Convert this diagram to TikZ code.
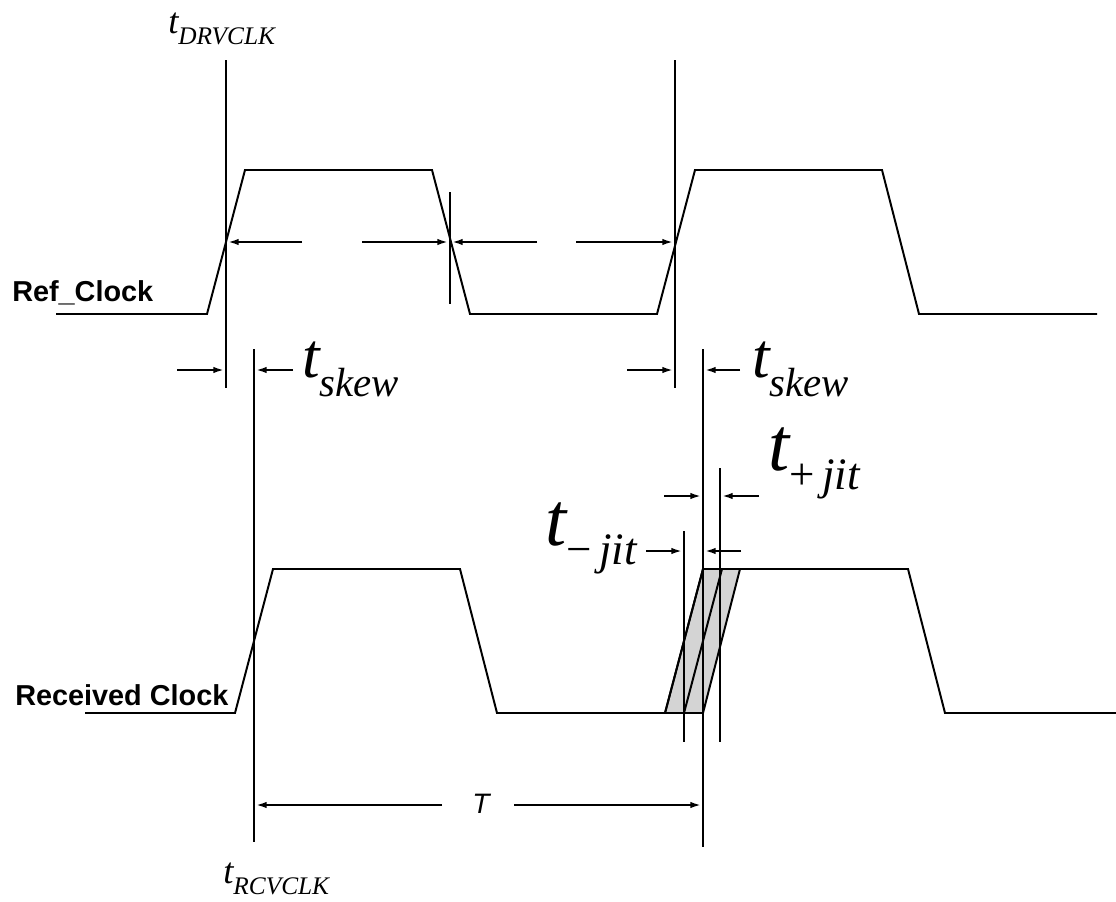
\documentclass[tikz,border=0pt]{standalone}
\usepackage{fontspec}
\setmainfont{Liberation Serif}
\newfontfamily\arialfont{Liberation Sans}
\usetikzlibrary{arrows.meta,positioning,calc}

\newcommand{\tlab}[4]{{\fontsize{#1}{#1}\selectfont\itshape t}\raisebox{-#3}{\fontsize{#2}{#2}\selectfont\itshape #4}}

\begin{document}
\begin{tikzpicture}[x=0.025cm,y=-0.025cm,>={Latex[length=8pt,width=4.5pt]},
  wave/.style={line width=1.4pt,line join=miter},
  vline/.style={line width=1.9pt},
  dim/.style={line width=1.8pt,->,shorten >=0.95pt},
  lbl/.style={inner sep=0pt,anchor=base west},
  sig/.style={lbl,font={\arialfont\bfseries\fontsize{20.5pt}{20.5pt}\selectfont}}]
\useasboundingbox (0,0) rectangle (1116,901);

\draw [wave] (56,314) -- (207,314) -- (245,170) -- (432,170) -- (470,314) -- (657,314)
  -- (695,170) -- (882,170) -- (919,314) -- (1097,314);
\filldraw [wave,fill=black!17] (665,713) -- (703,569) -- (740,569) -- (703,713) -- cycle;
\draw [wave] (684,713) -- (722,569);
\draw [wave] (85,713) -- (235,713) -- (273,569) -- (460,569) -- (497,713) -- (665,713)
  -- (703,569) -- (908,569) -- (945,713) -- (1116,713);

\foreach \n/\x/\a/\b in {1/226/60/388, 2/450/192/304, 3/675/60/388, 4/254/349/842,
  5/703/349/847, 6/684/531/742, 7/720/468/742}{
  \coordinate (v\n-t) at (\x,\a);
  \coordinate (v\n-b) at (\x,\b);
  \draw [vline] (v\n-t) -- (v\n-b);
}

\foreach \n/\x/\y/\v in {a1/302/242/1, a2/362/242/2, a3/537/242/2, a4/576/242/3,
  s1/177/370/1, s2/293/370/4, s3/627/370/3, s4/740/370/5,
  p1/664/496/5, p2/759/496/7, m1/646/551/6, m2/741/551/5,
  T1/442/805/4, T2/514/805/5}{
  \coordinate (\n) at (\x,\y);
  \draw [dim] (\n) -- (\n -| v\v-t);
}

\node [sig] at (12,301) (ref) {Ref\_Clock};
\node [sig] at (15,705) (rcv) {Received Clock};
\node [lbl] at (168,33) (tdrv) {\tlab{26pt}{18pt}{8.5pt}{DRVCLK}};
\node [lbl] at (223,883) (trcv) {\tlab{26pt}{18pt}{8.5pt}{RCVCLK}};
\node [lbl] at (302,377) (sk1) {\tlab{45pt}{29pt}{14pt}{skew}};
\node [lbl] at (752,377) (sk2) {\tlab{45pt}{29pt}{14pt}{skew}};
\node [lbl] at (768,470) (jp) {\tlab{54pt}{32pt}{14pt}{\upshape+\,\itshape jit}};
\node [lbl] at (545,545) (jm) {\tlab{54pt}{32pt}{14pt}{\upshape−\,\itshape jit}};
\node [lbl,font={\arialfont\itshape\fontsize{20pt}{20pt}\selectfont}] at (472,813) (T) {T};
\end{tikzpicture}
\end{document}
